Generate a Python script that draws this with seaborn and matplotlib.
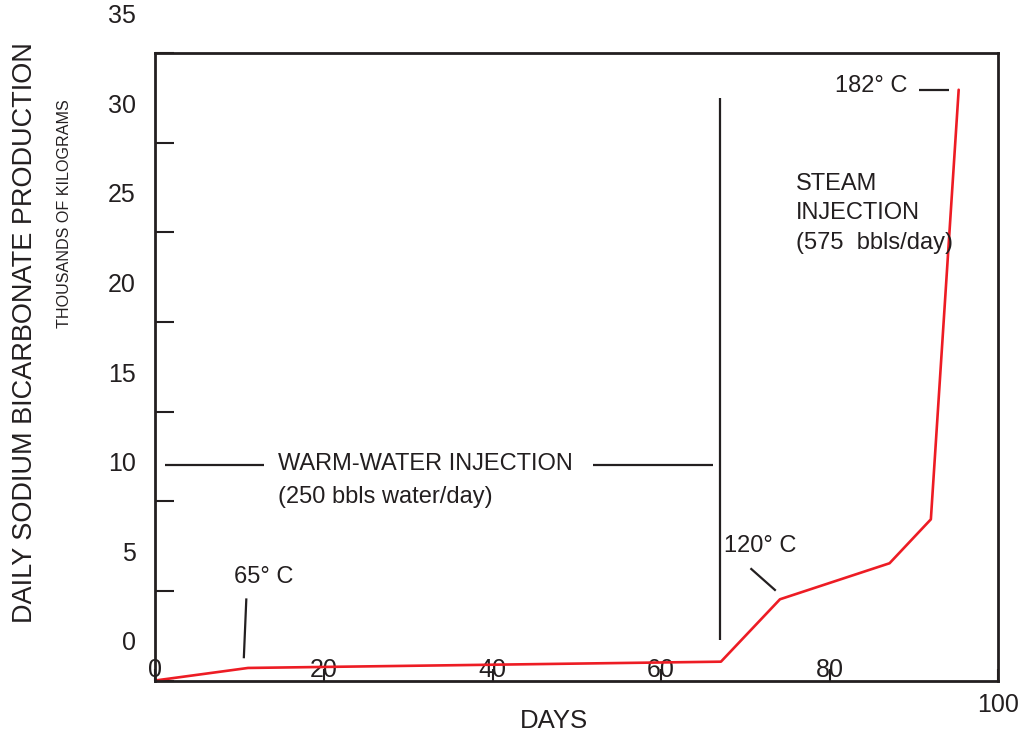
import matplotlib
matplotlib.use("Agg")
import matplotlib.pyplot as plt
from matplotlib.transforms import ScaledTranslation
import seaborn as sns
import pandas as pd

# ---- data ----
days = [0, 11.0, 67.1, 74.1, 87.1, 92.0, 95.3]
production = [0, 0.70, 1.05, 4.53, 6.54, 8.99, 32.95]

x_ticks = [0, 20, 40, 60, 80, 100]
x_tick_labels = ["0", "20", "40", "60", "80", "100"]
y_ticks = [0, 5, 10, 15, 20, 25, 30, 35]
y_tick_labels = ["0", "5", "10", "15", "20", "25", "30", "35"]

# annotation geometry (data coordinates)
phase_boundary_x = 67.0
phase_boundary_y = [2.25, 32.5]
warm_arrow_y = 12.0
warm_left_seg = [1.2, 12.9]
warm_right_seg = [51.9, 66.2]
leader_65 = ([10.8, 10.5], [4.58, 1.24])
leader_120 = ([70.6, 73.6], [6.26, 5.01])
leader_182 = ([90.6, 94.1], [32.95, 32.95])

sns.set_style("white")
plt.rcParams["font.family"] = ["Liberation Sans", "DejaVu Sans"]

INK = "#231f20"
RED = "#ed1c24"

fig = plt.figure(figsize=(10.29, 7.40), dpi=100)
ax = fig.add_axes([155.3 / 1029, 1 - 680.5 / 740, 843 / 1029, 627.5 / 740])

df = pd.DataFrame({"days": days, "prod": production})
sns.lineplot(data=df, x="days", y="prod", ax=ax, color=RED, linewidth=1.9,
             sort=False, estimator=None)

ax.set_xlim(0, 100)
ax.set_ylim(0, 35)
for s in ax.spines.values():
    s.set_color(INK)
    s.set_linewidth(2.0)

ax.set_xticks(x_ticks)
ax.set_xticklabels(x_tick_labels)
ax.set_yticks(y_ticks)
ax.set_yticklabels(y_tick_labels)
ax.tick_params(axis="x", direction="in", length=9, width=1.5, color=INK,
               labelsize=18, labelcolor=INK, pad=9.2, bottom=True)
ax.tick_params(axis="y", direction="in", length=14, width=1.5, color=INK,
               labelsize=18, labelcolor=INK, pad=13.9, left=True)

ax.set_xlabel("DAYS", fontsize=18.5, color=INK)
ax.xaxis.set_label_coords(0.473, -0.046)
ax.set_ylabel("DAILY SODIUM BICARBONATE PRODUCTION", fontsize=19.5, color=INK)
ax.yaxis.label.set_va("center")
ax.yaxis.set_label_coords(-0.154, 0.5546)
ax.text(-0.1075, (680.5 - 213.4) / 627.5, "THOUSANDS OF KILOGRAMS", transform=ax.transAxes,
        rotation=90, ha="center", va="center", fontsize=11.6, color=INK)

lk = dict(color=INK, linewidth=1.6, solid_capstyle="butt")
ax.plot([phase_boundary_x, phase_boundary_x], phase_boundary_y, **lk)
ax.plot(warm_left_seg, [warm_arrow_y] * 2, **lk)
ax.plot(warm_right_seg, [warm_arrow_y] * 2, **lk)
ax.plot(*leader_65, **lk)
ax.plot(*leader_120, **lk)
ax.plot(*leader_182, **lk)

tk = dict(fontsize=17, color=INK)
ax.text(14.53, 12.07, "WARM-WATER INJECTION", ha="left", va="center", **tk)
ax.text(14.53, 10.25, "(250 bbls water/day)", ha="left", va="center", **tk)
ax.text(9.38, 5.79, "65° C", ha="left", va="center", **tk)
ax.text(67.46, 7.52, "120° C", ha="left", va="center", **tk)
ax.text(89.17, 33.17, "182° C", ha="right", va="center", **tk)
ax.text(76.0, 28.33, "STEAM\nINJECTION\n(575  bbls/day)", ha="left", va="top",
        linespacing=1.45, **tk)

fig.canvas.draw()
# shift tick labels like the original figure
up_y = ScaledTranslation(0, 0.395, fig.dpi_scale_trans)
for t in ax.yaxis.get_major_ticks():
    t.label1.set_transform(t.label1.get_transform() + up_y)
up_x = ScaledTranslation(0, 0.35, fig.dpi_scale_trans)
for t in ax.xaxis.get_major_ticks()[:-1]:
    t.label1.set_transform(t.label1.get_transform() + up_x)

fig.savefig("out.png", dpi=100)
